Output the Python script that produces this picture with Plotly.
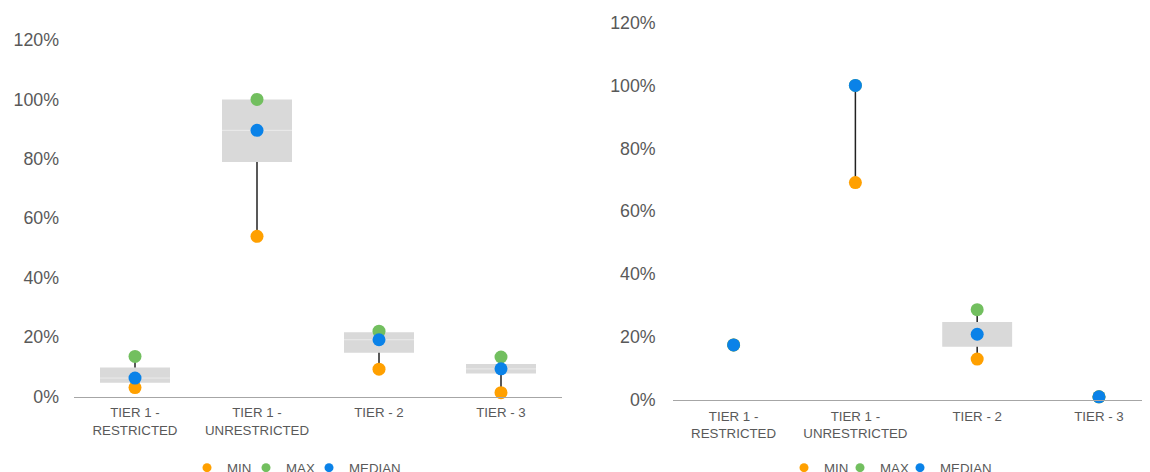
import plotly.graph_objects as go

categories = ["TIER 1 -<br>RESTRICTED", "TIER 1 -<br>UNRESTRICTED", "TIER - 2", "TIER - 3"]

# Left panel (values in %)
left_min = [3.0, 53.9, 9.2, 1.3]
left_max = [13.5, 100.0, 22.0, 13.3]
left_median = [6.2, 89.6, 19.1, 9.3]
left_q1 = [4.6, 78.9, 14.7, 7.7]
left_q3 = [9.8, 100.0, 21.6, 10.9]

# Right panel (values in %)
right_min = [17.5, 69.1, 13.0, 1.0]
right_max = [17.5, 100.0, 28.7, 1.0]
right_median = [17.5, 100.0, 20.9, 1.0]
right_q1 = [17.5, 100.0, 16.9, 1.0]
right_q3 = [17.5, 100.0, 24.8, 1.0]

series_names = ["MIN", "MAX", "MEDIAN"]
tick_values = [0, 20, 40, 60, 80, 100, 120]
tick_labels = ["0%", "20%", "40%", "60%", "80%", "100%", "120%"]

C_MIN = "#FFA000"
C_MAX = "#72BF5F"
C_MED = "#0A82E8"
C_BOX = "#D9D9D9"
C_TEXT = "#595959"
FONT = "Arial, Liberation Sans, sans-serif"
COLORS = [C_MIN, C_MAX, C_MED]

W, H = 1142, 464  # page body has an 8px margin in the 1150x472 window

fig = go.Figure()


def add_panel(xa, ya, mins, maxs, meds, q1s, q3s, legends, median_line, tag):
    # whiskers (outside the box)
    wx, wy = [], []
    for c, lo, hi, a, b in zip(categories, mins, maxs, q1s, q3s):
        if a > lo:
            wx += [c, c, None]
            wy += [lo, a, None]
        if hi > b:
            wx += [c, c, None]
            wy += [b, hi, None]
    fig.add_trace(go.Scatter(x=wx, y=wy, mode="lines", line=dict(color="#222222", width=1.5),
                             xaxis=xa, yaxis=ya, showlegend=False, hoverinfo="skip",
                             cliponaxis=False))
    # boxes
    fig.add_trace(go.Bar(x=categories, y=[b - a for a, b in zip(q1s, q3s)], base=q1s,
                         width=0.574, marker=dict(color=C_BOX, line=dict(width=0)),
                         xaxis=xa, yaxis=ya, showlegend=False, hoverinfo="skip"))
    if median_line:
        fig.add_trace(go.Scatter(x=categories, y=meds, mode="markers",
                                 marker=dict(symbol="line-ew", size=50,
                                             line=dict(color="#EBEBEB", width=1)),
                                 xaxis=xa, yaxis=ya, showlegend=False, hoverinfo="skip"))
    for name, vals, col, leg in zip(series_names, [mins, maxs, meds], COLORS, legends):
        grp = tag + name
        fig.add_trace(go.Scatter(x=categories, y=vals, mode="markers", name=name,
                                 marker=dict(color=col, size=13, line=dict(width=0)),
                                 xaxis=xa, yaxis=ya, legendgroup=grp, showlegend=False,
                                 cliponaxis=False))
        # legend entry (small dot like the original legend)
        fig.add_trace(go.Scatter(x=[None], y=[None], mode="markers", name=name,
                                 marker=dict(color=col, size=9, line=dict(width=0)),
                                 xaxis=xa, yaxis=ya, legendgroup=grp, legend=leg,
                                 showlegend=True))


add_panel("x", "y", left_min, left_max, left_median, left_q1, left_q3,
          ["legend", "legend2", "legend3"], True, "L")
add_panel("x2", "y2", right_min, right_max, right_median, right_q1, right_q3,
          ["legend4", "legend5", "legend6"], False, "R")

xcommon = dict(type="category", categoryorder="array", categoryarray=categories,
               showline=True, linecolor="#A6A6A6", linewidth=1, ticks="",
               showgrid=False, zeroline=False,
               tickfont=dict(family=FONT, size=13.3, color=C_TEXT), ticklabelstandoff=4)
ycommon = dict(range=[0, 120], tickmode="array", tickvals=tick_values, ticktext=tick_labels,
               showgrid=False, zeroline=False, showline=False, ticks="",
               tickfont=dict(family=FONT, size=17.8, color=C_TEXT))

legcommon = dict(orientation="h", font=dict(family=FONT, size=13.3, color=C_TEXT),
                 bgcolor="rgba(0,0,0,0)", xanchor="left", yanchor="middle",
                 itemwidth=30, y=1 - 460 / H)
leg_x = [179, 238, 301, 776, 832, 892]

layout_legends = {}
for i, px in enumerate(leg_x):
    key = "legend" if i == 0 else "legend%d" % (i + 1)
    layout_legends[key] = dict(x=px / W, **legcommon)

fig.update_layout(
    width=W, height=H,
    margin=dict(l=0, r=0, t=0, b=0, autoexpand=False),
    paper_bgcolor="white", plot_bgcolor="white",
    barmode="overlay",
    font=dict(family=FONT, color=C_TEXT),
    xaxis=dict(domain=[66 / W, 554 / W], range=[-0.5, 3.5], anchor="y", **xcommon),
    yaxis=dict(domain=[1 - 388.5 / H, 1 - 32 / H], anchor="x", ticklabelstandoff=14, **ycommon),
    xaxis2=dict(domain=[664.7 / W, 1.0], range=[-0.5, 3.419], anchor="y2", **xcommon),
    yaxis2=dict(domain=[1 - 392 / H, 1 - 14.5 / H], anchor="x2", ticklabelstandoff=16, **ycommon),
    **layout_legends,
)

fig.write_html("out.html")
